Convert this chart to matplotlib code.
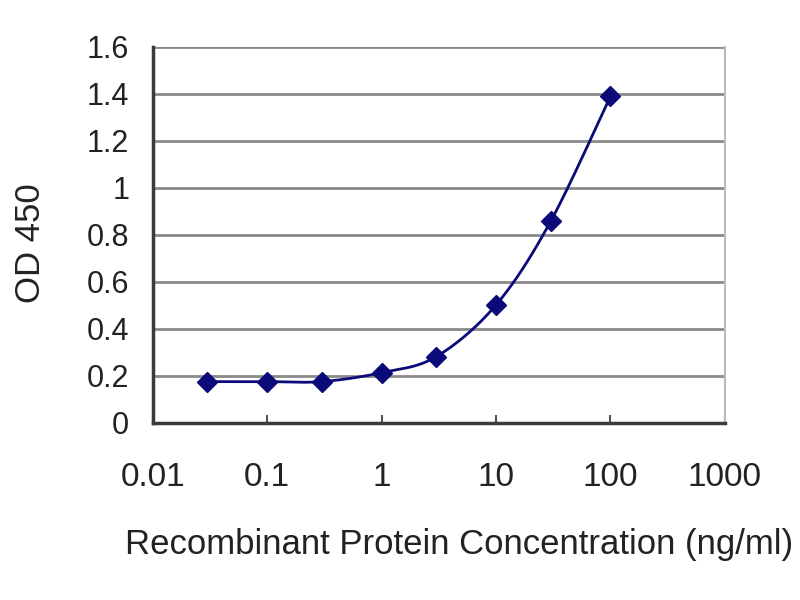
import numpy as np
import matplotlib
matplotlib.use("Agg")
import matplotlib.pyplot as plt

concentration = [0.03, 0.1, 0.3, 1, 3, 10, 30, 100]
od450 = [0.176, 0.176, 0.176, 0.214, 0.282, 0.502, 0.857, 1.389]
x_ticks = [0.01, 0.1, 1, 10, 100, 1000]
x_tick_labels = ["0.01", "0.1", "1", "10", "100", "1000"]
y_ticks = [0, 0.2, 0.4, 0.6, 0.8, 1.0, 1.2, 1.4, 1.6]
y_tick_labels = ["0", "0.2", "0.4", "0.6", "0.8", "1", "1.2", "1.4", "1.6"]

plt.rcParams["font.family"] = ["Liberation Sans", "DejaVu Sans"]

fig = plt.figure(figsize=(8, 6), dpi=100)
ax = fig.add_axes([0.191, 0.295, 0.715, 0.627])

# smoothed line (Excel-like Catmull-Rom Bezier in log-x space)
lx = np.log10(concentration)
yy = np.array(od450)
px, py = [], []
n = len(lx)
t = np.linspace(0, 1, 30)
for i in range(n - 1):
    x0, y0 = lx[i], yy[i]
    x3, y3 = lx[i + 1], yy[i + 1]
    xm, ym = (lx[i - 1], yy[i - 1]) if i > 0 else (x0, y0)
    xp, yp = (lx[i + 2], yy[i + 2]) if i + 2 < n else (x3, y3)
    x1 = x0 + (x3 - xm) / 6
    y1 = y0 + (y3 - ym) / 6
    x2 = x3 - (xp - x0) / 6
    y2 = y3 - (yp - y0) / 6
    bx = (1 - t) ** 3 * x0 + 3 * (1 - t) ** 2 * t * x1 + 3 * (1 - t) * t ** 2 * x2 + t ** 3 * x3
    by = (1 - t) ** 3 * y0 + 3 * (1 - t) ** 2 * t * y1 + 3 * (1 - t) * t ** 2 * y2 + t ** 3 * y3
    px.extend(bx)
    py.extend(by)

navy = "#0a0a78"
ax.plot(10 ** np.array(px), py, color=navy, lw=2, zorder=3)
ax.plot(concentration, od450, ls="none", marker="D", ms=10, color=navy, zorder=4)

ax.set_xscale("log")
ax.set_xlim(0.01, 1000)
ax.set_ylim(0, 1.6)
ax.set_xticks(x_ticks)
ax.set_xticklabels(x_tick_labels)
ax.xaxis.set_minor_locator(matplotlib.ticker.NullLocator())
ax.set_yticks(y_ticks)
ax.set_yticklabels(y_tick_labels)
for yv in y_ticks[1:]:
    ax.axhline(yv, color="#8a8a8a", lw=2, zorder=1)

ax.tick_params(axis="x", direction="in", length=6, width=1.5, color="#555555",
               labelsize=24, pad=28, labelcolor="#222222")
ax.tick_params(axis="y", length=0, labelsize=22, pad=17, labelcolor="#222222")

for s in ["left", "bottom"]:
    ax.spines[s].set_color("#3a3a3a")
    ax.spines[s].set_linewidth(2.5)
ax.spines["top"].set_visible(False)
ax.spines["right"].set_color("#bbbbbb")
ax.spines["right"].set_linewidth(1.5)

fig.text(0.0375, 0.595, "OD 450", rotation=90, ha="center", va="center",
         fontsize=25, color="#222222")
fig.text(0.574, 0.093, "Recombinant Protein Concentration (ng/ml)", ha="center",
         va="center", fontsize=25, color="#222222")

fig.savefig("out.png", dpi=100)
